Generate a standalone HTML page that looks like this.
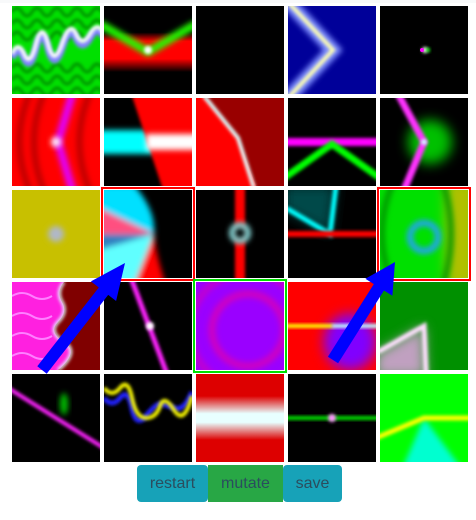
<!DOCTYPE html>
<html><head><meta charset="utf-8"><style>
body{margin:0;width:476px;height:520px;background:#fff;position:relative;overflow:hidden;font-family:"Liberation Sans",sans-serif}
.t{position:absolute;width:88px;height:88px;overflow:hidden}
.t svg{display:block}
.sel{position:absolute;width:88px;height:88px;border:2px solid red;margin:-3px 0 0 -3px;padding:1px;pointer-events:none}
.btn{position:absolute;top:465px;height:37px;border-radius:4px;color:#2b4d5e;font-size:16px;line-height:37px;text-align:center;border:none;padding:0;font-family:"Liberation Sans",sans-serif}
</style></head><body>
<div id="top" style="position:absolute;left:0;top:0;width:476px;height:3px;background:#f8f9fa"></div>
<svg width="0" height="0" style="position:absolute"><defs>
<filter id="b1" x="-50%" y="-50%" width="200%" height="200%"><feGaussianBlur stdDeviation="1.5"/></filter>
<filter id="b2" x="-50%" y="-50%" width="200%" height="200%"><feGaussianBlur stdDeviation="3"/></filter>
<filter id="b4" x="-50%" y="-50%" width="200%" height="200%"><feGaussianBlur stdDeviation="6"/></filter>
<linearGradient id="g23" x1="0" y1="0" x2="0" y2="1"><stop offset="0.25" stop-color="#dd0000"/><stop offset="0.45" stop-color="#e8ffff"/><stop offset="0.55" stop-color="#e8ffff"/><stop offset="0.75" stop-color="#dd0000"/></linearGradient>
<linearGradient id="g2" x1="0" y1="0" x2="0" y2="1"><stop offset="0.3" stop-color="#000"/><stop offset="0.4" stop-color="#f00"/><stop offset="0.6" stop-color="#f00"/><stop offset="0.75" stop-color="#000"/></linearGradient>
</defs></svg>

<!-- row 0 -->
<div class="t" style="left:12px;top:6px"><svg width="88" height="88">
<rect width="88" height="88" fill="#00e000"/>
<g fill="none" stroke="#009000" stroke-width="3" filter="url(#b1)">
<path d="M0 6 q5 -8 10 0 t10 0 t10 0 t10 0 t10 0 t10 0 t10 0 t10 0 t10 0"/>
<path d="M0 18 q5 -8 10 0 t10 0 t10 0 t10 0 t10 0 t10 0 t10 0 t10 0 t10 0"/>
<path d="M0 30 q5 -8 10 0 t10 0 t10 0 t10 0 t10 0 t10 0 t10 0 t10 0 t10 0"/>
<path d="M0 62 q5 -8 10 0 t10 0 t10 0 t10 0 t10 0 t10 0 t10 0 t10 0 t10 0"/>
<path d="M0 74 q5 -8 10 0 t10 0 t10 0 t10 0 t10 0 t10 0 t10 0 t10 0 t10 0"/>
<path d="M0 86 q5 -8 10 0 t10 0 t10 0 t10 0 t10 0 t10 0 t10 0 t10 0 t10 0"/></g>
<path d="M0 52 q6 -14 12 0 t12 -10 t12 0 t14 0 t14 -10 t14 0 t14 0" fill="none" stroke="#8080ff" stroke-width="7" filter="url(#b1)"/>
<path d="M0 48 q6 -14 12 0 t12 -10 t12 0 t14 0 t14 -10 t14 0 t14 0" fill="none" stroke="#fff" stroke-width="4" filter="url(#b1)"/>
</svg></div>
<div class="t" style="left:104px;top:6px"><svg width="88" height="88">
<rect width="88" height="88" fill="url(#g2)"/>
<path d="M-4 18 L44 46 L92 18" fill="none" stroke="#20ff00" stroke-width="8" filter="url(#b2)"/>
<circle cx="44" cy="44" r="4" fill="#fff" filter="url(#b1)"/>
</svg></div>
<div class="t" style="left:196px;top:6px;background:#000"></div>
<div class="t" style="left:288px;top:6px"><svg width="88" height="88">
<rect width="88" height="88" fill="#000099"/>
<path d="M0 -4 L45 44 L0 92" fill="none" stroke="#8090ff" stroke-width="14" filter="url(#b2)"/>
<path d="M0 -4 L45 44 L0 92" fill="none" stroke="#ffffb0" stroke-width="4" filter="url(#b1)"/>
</svg></div>
<div class="t" style="left:380px;top:6px"><svg width="88" height="88">
<rect width="88" height="88" fill="#000"/><circle cx="45" cy="44" r="3" fill="#fff" filter="url(#b1)"/>
<circle cx="42" cy="44" r="2" fill="#f0f"/><circle cx="48" cy="44" r="2" fill="#0f0" filter="url(#b1)"/>
</svg></div>

<!-- row 1 -->
<div class="t" style="left:12px;top:98px"><svg width="88" height="88">
<rect width="88" height="88" fill="#f00"/>
<g fill="none" stroke="#b00000" stroke-width="5" filter="url(#b2)">
<path d="M20 -10 Q-5 44 20 98"/><path d="M34 -10 Q10 44 34 98"/><path d="M80 -10 Q55 44 80 98"/></g>
<path d="M62 -10 L46 44 L62 98" fill="none" stroke="#e000ff" stroke-width="8" filter="url(#b2)"/>
<circle cx="44" cy="44" r="5" fill="#fff" filter="url(#b2)"/>
</svg></div>
<div class="t" style="left:104px;top:98px"><svg width="88" height="88">
<rect width="88" height="88" fill="#000"/>
<rect x="-10" y="32" width="108" height="24" fill="#00ffff" filter="url(#b2)"/>
<path d="M27 -5 L95 -5 L95 95 L60 95 Z" fill="#f00" filter="url(#b1)"/>
<rect x="42" y="36" width="56" height="16" fill="#fff" filter="url(#b2)"/>
</svg></div>
<div class="t" style="left:196px;top:98px"><svg width="88" height="88">
<rect width="88" height="88" fill="#990000"/>
<path d="M0 0 L8 0 L42 40 L60 88 L0 88 Z" fill="#f00"/>
<path d="M8 -2 L42 40 L58 90" fill="none" stroke="#e0ffff" stroke-width="4" filter="url(#b1)"/>
</svg></div>
<div class="t" style="left:288px;top:98px"><svg width="88" height="88">
<rect width="88" height="88" fill="#000"/>
<rect x="-10" y="40" width="108" height="8" fill="#ff00ff" filter="url(#b1)"/>
<path d="M-4 80 L44 46 L92 80" fill="none" stroke="#00ff00" stroke-width="7" filter="url(#b1)"/>
</svg></div>
<div class="t" style="left:380px;top:98px"><svg width="88" height="88">
<rect width="88" height="88" fill="#000"/>
<circle cx="50" cy="44" r="22" fill="#00c000" filter="url(#b4)"/>
<path d="M18 -4 L44 44 L24 92" fill="none" stroke="#ff30ff" stroke-width="7" filter="url(#b1)"/>
<circle cx="44" cy="44" r="3" fill="#ccffff" filter="url(#b1)"/>
</svg></div>

<!-- row 2 -->
<div class="t" style="left:12px;top:190px"><svg width="88" height="88">
<rect width="88" height="88" fill="#c8c000"/><circle cx="44" cy="44" r="8" fill="#b0b8c8" filter="url(#b2)"/>
</svg></div>
<div class="t" style="left:104px;top:190px"><svg width="88" height="88">
<rect width="88" height="88" fill="#000"/>
<g filter="url(#b2)">
<path d="M-5 -5 L30 -5 Q52 20 50 44 L-5 20 Z" fill="#00e0ff"/>
<path d="M-5 18 L50 44 L-5 44 Z" fill="#ff5080"/>
<path d="M-5 44 L50 44 L-5 70 Z" fill="#3080c0"/>
<path d="M-5 60 L50 44 Q46 70 30 95 L-5 95 Z" fill="#60ffff"/>
<path d="M50 44 Q52 66 62 95 L30 95 Z" fill="#f00"/>
</g></svg></div>
<div class="t" style="left:196px;top:190px"><svg width="88" height="88">
<rect width="88" height="88" fill="#000"/>
<rect x="39" y="-10" width="10" height="108" fill="#f00" filter="url(#b1)"/>
<circle cx="44" cy="43" r="9" fill="#000" filter="url(#b2)"/>
<circle cx="44" cy="43" r="8" fill="none" stroke="#a0ffff" stroke-width="5" filter="url(#b2)"/>
</svg></div>
<div class="t" style="left:288px;top:190px"><svg width="88" height="88">
<rect width="88" height="88" fill="#000"/>
<path d="M-5 -5 L-5 20 L42 44 L48 -5 Z" fill="#004848" filter="url(#b4)"/>
<path d="M-2 18 L42 44 L48 -4" fill="none" stroke="#00ffff" stroke-width="5" filter="url(#b1)"/>
<rect x="-10" y="41" width="108" height="6" fill="#f00" filter="url(#b1)"/>
</svg></div>
<div class="t" style="left:380px;top:190px"><svg width="88" height="88">
<rect width="88" height="88" fill="#00e000"/>
<rect x="66" y="-10" width="32" height="108" fill="#b0c000" filter="url(#b4)"/>
<g fill="none" stroke="#009000" stroke-width="5" filter="url(#b2)"><path d="M14 -10 Q-10 44 14 98"/><path d="M62 -10 Q80 44 62 98"/></g>
<circle cx="44" cy="47" r="14" fill="none" stroke="#20a0ff" stroke-width="6" filter="url(#b2)"/>
</svg></div>

<!-- row 3 -->
<div class="t" style="left:12px;top:282px"><svg width="88" height="88">
<rect width="88" height="88" fill="#800000"/>
<path d="M0 0 L52 0 Q44 10 50 20 T46 40 T52 60 T46 88 L0 88 Z" fill="#ff20e0"/>
<g fill="none" stroke="#ff80ff" stroke-width="2"><path d="M0 14 q10 -6 20 0 t20 0"/><path d="M0 34 q10 -6 20 0 t20 0"/><path d="M0 54 q10 -6 20 0 t20 0"/><path d="M0 74 q10 -6 20 0 t20 0"/></g>
<path d="M52 0 Q44 10 50 20 T46 40 T52 60 T46 88" fill="none" stroke="#e0ffff" stroke-width="3" filter="url(#b1)"/>
</svg></div>
<div class="t" style="left:104px;top:282px"><svg width="88" height="88">
<rect width="88" height="88" fill="#000"/>
<path d="M27 -4 L63 92" stroke="#ff20ff" stroke-width="5" filter="url(#b1)"/>
<circle cx="46" cy="44" r="4" fill="#fff" filter="url(#b1)"/>
</svg></div>
<div class="t" style="left:196px;top:282px"><svg width="88" height="88">
<rect width="88" height="88" fill="#9a00ff"/>
<g fill="none" stroke-width="7" filter="url(#b2)"><circle cx="52" cy="48" r="36" stroke="#d000c0"/><circle cx="52" cy="48" r="58" stroke="#c000d0"/></g>
</svg></div>
<div class="t" style="left:288px;top:282px"><svg width="88" height="88">
<rect width="88" height="88" fill="#f00"/>
<ellipse cx="62" cy="60" rx="26" ry="28" fill="#8000ff" filter="url(#b4)"/>
<rect x="-5" y="42" width="50" height="4" fill="#ffff00" filter="url(#b1)"/>
<rect x="44" y="42" width="50" height="4" fill="#c0ffff" filter="url(#b1)"/>
</svg></div>
<div class="t" style="left:380px;top:282px"><svg width="88" height="88">
<rect width="88" height="88" fill="#009000"/>
<path d="M-5 72 L44 44 L46 95 L-5 95 Z" fill="#c0a0c0" filter="url(#b4)"/>
<path d="M-2 70 L44 44 L46 92" fill="none" stroke="#ffe0ff" stroke-width="5" filter="url(#b1)"/>
</svg></div>

<!-- row 4 -->
<div class="t" style="left:12px;top:374px"><svg width="88" height="88">
<rect width="88" height="88" fill="#000"/>
<ellipse cx="52" cy="30" rx="4" ry="11" fill="#00c000" filter="url(#b2)"/>
<path d="M-4 14 L92 74" stroke="#ff20ff" stroke-width="4" filter="url(#b1)"/>
</svg></div>
<div class="t" style="left:104px;top:374px"><svg width="88" height="88">
<rect width="88" height="88" fill="#000"/>
<path d="M0 24 q8 10 16 0 t12 10 t14 8 t14 -12 t14 4 t18 -16" fill="none" stroke="#2020ff" stroke-width="5" filter="url(#b1)"/>
<path d="M0 14 q8 10 16 0 t12 10 t14 20 t14 -12 t14 4 t18 -14" fill="none" stroke="#ffff00" stroke-width="4" filter="url(#b1)"/>
</svg></div>
<div class="t" style="left:196px;top:374px"><svg width="88" height="88">
<rect width="88" height="88" fill="url(#g23)"/>
</svg></div>
<div class="t" style="left:288px;top:374px"><svg width="88" height="88">
<rect width="88" height="88" fill="#000"/><rect x="-10" y="42" width="108" height="4" fill="#00e000" filter="url(#b1)"/>
<circle cx="44" cy="44" r="4" fill="#ff90ff" filter="url(#b1)"/>
</svg></div>
<div class="t" style="left:380px;top:374px"><svg width="88" height="88">
<rect width="88" height="88" fill="#00ff00"/>
<path d="M44 44 L22 95 L82 95 Z" fill="#00ffd0" filter="url(#b2)"/>
<path d="M-4 64 L44 44 L92 44" fill="none" stroke="#ffff00" stroke-width="5" filter="url(#b1)"/>
</svg></div>

<div class="sel" style="left:104px;top:190px"></div>
<div class="sel" style="left:380px;top:190px"></div>
<div class="sel" style="left:196px;top:282px;border-color:#00e000"></div>

<svg style="position:absolute;left:0;top:0" width="476" height="520">
<g fill="#0000ff">
<polygon points="37.3,366.3 98.8,287.5 90.9,281.4 125,263 116.1,301 108.2,294.9 46.7,373.7"/>
<polygon points="327.9,356.8 373.8,284.1 365.4,278.8 395,262 392.4,295.8 384,290.5 338.1,363.2"/>
</g></svg>

<button class="btn" style="left:137px;width:71px;background:#17a2b8">restart</button>
<button class="btn" style="left:208px;width:75px;background:#28a745;border-radius:0">mutate</button>
<button class="btn" style="left:283px;width:59px;background:#17a2b8">save</button>
</body></html>
